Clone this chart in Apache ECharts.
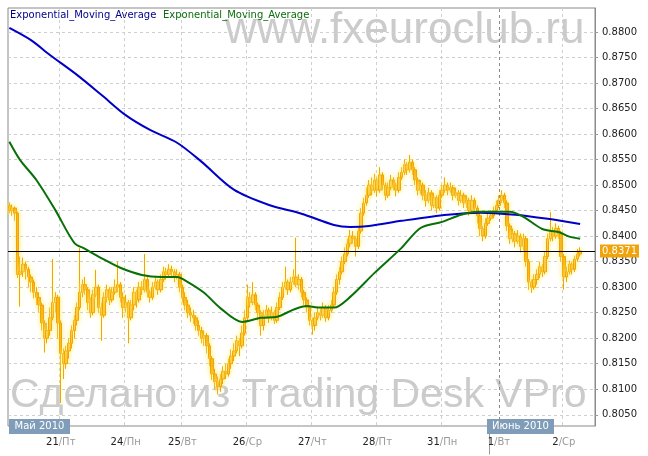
<!DOCTYPE html>
<html>
<head>
<meta charset="utf-8">
<title>EMA chart</title>
<script src="https://cdn.jsdelivr.net/npm/echarts@6/dist/echarts.min.js"></script>
<style>
  html, body { margin: 0; padding: 0; background: #fff; }
  #chart { width: 648px; height: 456px; }
</style>
</head>
<body>
<div id="chart"></div>
<script>
// trading days on the axis, hourly bars
const dayNums = ['20', '21', '24', '25', '26', '27', '28', '31', '1', '2']
const weekDays = ['Чт', 'Пт', 'Пн', 'Вт', 'Ср', 'Чт', 'Пт', 'Пн', 'Вт', 'Ср']
const dayMonths = ['05', '05', '05', '05', '05', '05', '05', '05', '06', '06']
const barsPerDay = [19, 24, 21, 24, 24, 24, 24, 21, 24, 12] // last day only partly filled

const yTicks = [0.805, 0.81, 0.815, 0.82, 0.825, 0.83, 0.835, 0.84, 0.845, 0.85,
  0.855, 0.86, 0.865, 0.87, 0.875, 0.88]

const lastPrice = 0.8371

const opens = [
  // 20
  0.8460, 0.8450, 0.8455, 0.8445, 0.8325, 0.8330, 0.8345, 0.8335, 0.8320, 0.8310, 0.8290, 0.8280, 0.8265, 0.8230, 0.8200, 0.8215, 0.8240, 0.8270, 0.8280,
  // 21
  0.8230, 0.8170, 0.8150, 0.8175, 0.8190, 0.8215, 0.8235, 0.8260, 0.8290, 0.8305, 0.8295, 0.8270, 0.8250, 0.8285, 0.8300, 0.8260, 0.8245, 0.8280, 0.8295, 0.8275, 0.8290, 0.8300, 0.8305, 0.8280,
  // 24
  0.8260, 0.8270, 0.8240, 0.8265, 0.8290, 0.8275, 0.8300, 0.8295, 0.8315, 0.8290, 0.8280, 0.8300, 0.8310, 0.8295, 0.8315, 0.8330, 0.8325, 0.8335, 0.8330, 0.8320, 0.8325,
  // 25
  0.8300, 0.8280, 0.8265, 0.8250, 0.8245, 0.8240, 0.8225, 0.8215, 0.8200, 0.8205, 0.8185, 0.8160, 0.8130, 0.8115, 0.8105, 0.8120, 0.8135, 0.8130, 0.8150, 0.8165, 0.8175, 0.8195, 0.8185, 0.8210,
  // 26
  0.8240, 0.8280, 0.8270, 0.8285, 0.8265, 0.8250, 0.8225, 0.8245, 0.8255, 0.8240, 0.8250, 0.8235, 0.8260, 0.8280, 0.8300, 0.8310, 0.8295, 0.8310, 0.8320, 0.8305, 0.8315, 0.8290, 0.8275, 0.8260,
  // 27
  0.8235, 0.8225, 0.8240, 0.8250, 0.8245, 0.8260, 0.8240, 0.8255, 0.8265, 0.8290, 0.8315, 0.8330, 0.8350, 0.8365, 0.8385, 0.8400, 0.8395, 0.8380, 0.8410, 0.8445, 0.8465, 0.8480, 0.8500, 0.8490,
  // 28
  0.8510, 0.8490, 0.8520, 0.8500, 0.8480, 0.8495, 0.8510, 0.8500, 0.8490, 0.8515, 0.8525, 0.8540, 0.8530, 0.8545, 0.8530, 0.8510, 0.8490, 0.8500, 0.8480, 0.8470, 0.8485, 0.8460, 0.8475, 0.8455,
  // 31
  0.8480, 0.8490, 0.8500, 0.8490, 0.8495, 0.8480, 0.8485, 0.8470, 0.8480, 0.8465, 0.8470, 0.8450, 0.8470, 0.8455, 0.8440, 0.8415, 0.8400, 0.8425, 0.8435, 0.8440, 0.8450,
  // 1
  0.8460, 0.8470, 0.8480, 0.8465, 0.8420, 0.8395, 0.8405, 0.8390, 0.8400, 0.8380, 0.8395, 0.8350, 0.8310, 0.8300, 0.8315, 0.8325, 0.8340, 0.8330, 0.8360, 0.8395, 0.8410, 0.8400, 0.8415, 0.8405,
  // 2
  0.8360, 0.8320, 0.8330, 0.8345, 0.8335, 0.8355, 0.8365
]

const closes = [
  0.8450, 0.8455, 0.8445, 0.8325, 0.8330, 0.8345, 0.8335, 0.8320, 0.8310, 0.8290, 0.8280, 0.8265, 0.8230, 0.8200, 0.8215, 0.8240, 0.8270, 0.8280, 0.8230,
  0.8170, 0.8150, 0.8175, 0.8190, 0.8215, 0.8235, 0.8260, 0.8290, 0.8305, 0.8295, 0.8270, 0.8250, 0.8285, 0.8300, 0.8260, 0.8245, 0.8280, 0.8295, 0.8275, 0.8290, 0.8300, 0.8305, 0.8280, 0.8260,
  0.8270, 0.8240, 0.8265, 0.8290, 0.8275, 0.8300, 0.8295, 0.8315, 0.8290, 0.8280, 0.8300, 0.8310, 0.8295, 0.8315, 0.8330, 0.8325, 0.8335, 0.8330, 0.8320, 0.8325, 0.8300,
  0.8280, 0.8265, 0.8250, 0.8245, 0.8240, 0.8225, 0.8215, 0.8200, 0.8205, 0.8185, 0.8160, 0.8130, 0.8115, 0.8105, 0.8120, 0.8135, 0.8130, 0.8150, 0.8165, 0.8175, 0.8195, 0.8185, 0.8210, 0.8240,
  0.8280, 0.8270, 0.8285, 0.8265, 0.8250, 0.8225, 0.8245, 0.8255, 0.8240, 0.8250, 0.8235, 0.8260, 0.8280, 0.8300, 0.8310, 0.8295, 0.8310, 0.8320, 0.8305, 0.8315, 0.8290, 0.8275, 0.8260, 0.8235,
  0.8225, 0.8240, 0.8250, 0.8245, 0.8260, 0.8240, 0.8255, 0.8265, 0.8290, 0.8315, 0.8330, 0.8350, 0.8365, 0.8385, 0.8400, 0.8395, 0.8380, 0.8410, 0.8445, 0.8465, 0.8480, 0.8500, 0.8490, 0.8510,
  0.8490, 0.8520, 0.8500, 0.8480, 0.8495, 0.8510, 0.8500, 0.8490, 0.8515, 0.8525, 0.8540, 0.8530, 0.8545, 0.8530, 0.8510, 0.8490, 0.8500, 0.8480, 0.8470, 0.8485, 0.8460, 0.8475, 0.8455, 0.8480,
  0.8490, 0.8500, 0.8490, 0.8495, 0.8480, 0.8485, 0.8470, 0.8480, 0.8465, 0.8470, 0.8450, 0.8470, 0.8455, 0.8440, 0.8415, 0.8400, 0.8425, 0.8435, 0.8440, 0.8450, 0.8460,
  0.8470, 0.8480, 0.8465, 0.8420, 0.8395, 0.8405, 0.8390, 0.8400, 0.8380, 0.8395, 0.8350, 0.8310, 0.8300, 0.8315, 0.8325, 0.8340, 0.8330, 0.8360, 0.8395, 0.8410, 0.8400, 0.8415, 0.8405, 0.8360,
  0.8320, 0.8330, 0.8345, 0.8335, 0.8355, 0.8365, 0.8371
]

const highs = [
  0.8466, 0.8462, 0.8458, 0.8448, 0.8360, 0.8358, 0.8350, 0.8340, 0.8325, 0.8315, 0.8300, 0.8290, 0.8270, 0.8235, 0.8230, 0.8260, 0.8355, 0.8290, 0.8285,
  0.8235, 0.8180, 0.8185, 0.8200, 0.8225, 0.8245, 0.8270, 0.8377, 0.8315, 0.8320, 0.8300, 0.8280, 0.8295, 0.8334, 0.8305, 0.8270, 0.8290, 0.8305, 0.8300, 0.8300, 0.8315, 0.8350, 0.8310, 0.8290,
  0.8285, 0.8275, 0.8275, 0.8300, 0.8295, 0.8310, 0.8312, 0.8365, 0.8320, 0.8295, 0.8310, 0.8320, 0.8315, 0.8325, 0.8340, 0.8338, 0.8345, 0.8342, 0.8335, 0.8335, 0.8330,
  0.8305, 0.8290, 0.8275, 0.8260, 0.8255, 0.8245, 0.8235, 0.8222, 0.8215, 0.8210, 0.8190, 0.8165, 0.8140, 0.8125, 0.8130, 0.8145, 0.8150, 0.8160, 0.8178, 0.8190, 0.8205, 0.8200, 0.8225, 0.8255,
  0.8305, 0.8290, 0.8310, 0.8290, 0.8270, 0.8255, 0.8255, 0.8265, 0.8260, 0.8262, 0.8255, 0.8270, 0.8290, 0.8310, 0.8340, 0.8315, 0.8320, 0.8335, 0.8397, 0.8325, 0.8320, 0.8295, 0.8280, 0.8265,
  0.8240, 0.8250, 0.8262, 0.8258, 0.8270, 0.8265, 0.8265, 0.8275, 0.8300, 0.8325, 0.8340, 0.8360, 0.8378, 0.8395, 0.8412, 0.8410, 0.8400, 0.8420, 0.8455, 0.8475, 0.8495, 0.8510, 0.8515, 0.8522,
  0.8515, 0.8535, 0.8525, 0.8505, 0.8505, 0.8520, 0.8515, 0.8505, 0.8525, 0.8535, 0.8550, 0.8545, 0.8559, 0.8550, 0.8535, 0.8515, 0.8510, 0.8505, 0.8490, 0.8495, 0.8490, 0.8485, 0.8480, 0.8490,
  0.8500, 0.8515, 0.8505, 0.8505, 0.8500, 0.8495, 0.8490, 0.8490, 0.8485, 0.8480, 0.8475, 0.8480, 0.8475, 0.8460, 0.8445, 0.8420, 0.8435, 0.8445, 0.8450, 0.8458, 0.8470,
  0.8480, 0.8490, 0.8485, 0.8470, 0.8425, 0.8415, 0.8410, 0.8412, 0.8405, 0.8405, 0.8400, 0.8355, 0.8315, 0.8325, 0.8335, 0.8350, 0.8345, 0.8370, 0.8405, 0.8447, 0.8418, 0.8425, 0.8420, 0.8410,
  0.8365, 0.8340, 0.8352, 0.8350, 0.8362, 0.8375, 0.8378
]

const lows = [
  0.8445, 0.8440, 0.8430, 0.8318, 0.8262, 0.8320, 0.8315, 0.8300, 0.8290, 0.8278, 0.8265, 0.8250, 0.8215, 0.8172, 0.8190, 0.8205, 0.8235, 0.8250, 0.8200,
  0.8073, 0.8120, 0.8140, 0.8160, 0.8180, 0.8200, 0.8225, 0.8255, 0.8280, 0.8285, 0.8255, 0.8240, 0.8245, 0.8280, 0.8250, 0.8195, 0.8240, 0.8270, 0.8265, 0.8270, 0.8285, 0.8290, 0.8270, 0.8240,
  0.8250, 0.8190, 0.8235, 0.8255, 0.8260, 0.8270, 0.8285, 0.8290, 0.8280, 0.8270, 0.8275, 0.8295, 0.8285, 0.8290, 0.8310, 0.8315, 0.8320, 0.8320, 0.8310, 0.8315, 0.8290,
  0.8270, 0.8255, 0.8240, 0.8232, 0.8228, 0.8215, 0.8205, 0.8190, 0.8185, 0.8170, 0.8145, 0.8118, 0.8100, 0.8090, 0.8095, 0.8110, 0.8120, 0.8125, 0.8140, 0.8155, 0.8170, 0.8165, 0.8180, 0.8205,
  0.8235, 0.8260, 0.8265, 0.8255, 0.8235, 0.8205, 0.8215, 0.8238, 0.8230, 0.8235, 0.8228, 0.8230, 0.8255, 0.8275, 0.8295, 0.8285, 0.8290, 0.8305, 0.8300, 0.8295, 0.8280, 0.8265, 0.8250, 0.8225,
  0.8207, 0.8215, 0.8235, 0.8235, 0.8240, 0.8232, 0.8235, 0.8250, 0.8260, 0.8285, 0.8305, 0.8325, 0.8345, 0.8360, 0.8378, 0.8385, 0.8360, 0.8375, 0.8405, 0.8440, 0.8460, 0.8475, 0.8480, 0.8485,
  0.8478, 0.8485, 0.8490, 0.8470, 0.8475, 0.8490, 0.8490, 0.8478, 0.8485, 0.8510, 0.8520, 0.8520, 0.8525, 0.8520, 0.8500, 0.8480, 0.8482, 0.8470, 0.8458, 0.8465, 0.8450, 0.8455, 0.8445, 0.8450,
  0.8475, 0.8485, 0.8480, 0.8485, 0.8470, 0.8475, 0.8460, 0.8465, 0.8455, 0.8455, 0.8440, 0.8445, 0.8445, 0.8425, 0.8400, 0.8390, 0.8395, 0.8420, 0.8430, 0.8435, 0.8445,
  0.8455, 0.8465, 0.8455, 0.8410, 0.8385, 0.8388, 0.8378, 0.8385, 0.8368, 0.8372, 0.8340, 0.8295, 0.8289, 0.8295, 0.8305, 0.8318, 0.8320, 0.8325, 0.8355, 0.8390, 0.8390, 0.8395, 0.8395, 0.8350,
  0.8295, 0.8310, 0.8325, 0.8325, 0.8330, 0.8350, 0.8360
]

// moving averages: [bar index, value]
const emaBlue = [[0, 0.8808], [8, 0.8784], [15, 0.8755], [25, 0.8716], [34, 0.8677], [43, 0.8637],
  [52, 0.8608], [62, 0.8583], [71, 0.8546], [83, 0.8491], [96, 0.8461], [108, 0.8444], [120, 0.8422],
  [126, 0.8418], [133, 0.8420], [145, 0.8430], [162, 0.8442], [174, 0.8446], [187, 0.8442],
  [199, 0.8434], [211, 0.8424]]
const emaGreen = [[0, 0.8585], [4, 0.8549], [10, 0.8510], [17, 0.8451], [24, 0.8387], [28, 0.8375],
  [34, 0.8357], [41, 0.8338], [49, 0.8324], [56, 0.8320], [62, 0.8320], [66, 0.8310], [72, 0.8289],
  [78, 0.8259], [86, 0.8232], [93, 0.8240], [99, 0.8242], [105, 0.8256], [110, 0.8263], [114, 0.8260],
  [120, 0.8260], [126, 0.8281], [135, 0.8328], [145, 0.8377], [152, 0.8416], [160, 0.8428],
  [167, 0.8442], [173, 0.8448], [185, 0.8448], [190, 0.8438], [197, 0.8414], [203, 0.8408],
  [207, 0.8399], [211, 0.8395]]

// category names + where each day starts
let categories = []
let dayStart = {}
let monthStart = 0
dayNums.forEach((d, k) => {
  const n = barsPerDay[k]
  const first = k === dayNums.length - 1 ? 0 : 24 - n
  dayStart[categories.length] = [d, weekDays[k]]
  if (k > 0 && dayMonths[k] !== dayMonths[k - 1]) monthStart = categories.length
  for (let h = first; h < first + n; h++) {
    categories.push('2010-' + dayMonths[k] + '-' + d.padStart(2, '0') + ' ' + String(h).padStart(2, '0') + ':00')
  }
})

const candles = closes.map((c, i) => [opens[i], c, lows[i], highs[i]])

const font = 'DejaVu Sans'
const gridDash = { color: '#cfcfcf', type: [3, 3], width: 1 }

let chart = echarts.init(document.getElementById('chart'))
let option = {
  animation: false,
  backgroundColor: '#fff',
  grid: {
    left: 8, right: 53, top: 8, bottom: 30,
    show: true,
    borderColor: '#8a8a8a',
    borderWidth: 1,
    outerBoundsMode: 'none'
  },
  xAxis: {
    type: 'category',
    data: categories,
    boundaryGap: true,
    axisLine: { show: false },
    axisTick: { show: false },
    axisLabel: {
      interval: (i) => i > 0 && !!dayStart[i],
      margin: 11,
      formatter: (v, i) => {
        const d = dayStart[i]
        return d ? '{d|' + d[0] + '}{w|/' + d[1] + '}' : ''
      },
      rich: {
        d: { color: '#222', fontSize: 10, fontFamily: font },
        w: { color: '#999', fontSize: 10, fontFamily: font }
      }
    },
    splitLine: {
      show: true,
      interval: (i) => i > 0 && i !== monthStart && !!dayStart[i],
      lineStyle: gridDash
    }
  },
  yAxis: {
    type: 'value',
    position: 'right',
    scale: true,
    min: 0.8028,
    max: 0.8847,
    axisLine: { show: true, lineStyle: { color: '#8a8a8a' } },
    axisTick: { show: true, length: 3, customValues: yTicks, lineStyle: { color: '#999' } },
    axisLabel: {
      customValues: yTicks,
      margin: 7,
      color: '#222',
      fontSize: 10,
      fontFamily: font,
      formatter: (v) => v.toFixed(4)
    },
    splitLine: { show: true, lineStyle: gridDash }
  },
  series: [
    {
      type: 'candlestick',
      data: candles,
      barWidth: 3,
      z: 3,
      itemStyle: {
        color: '#fbbd2c',
        color0: '#f5a400',
        borderColor: '#f2a500',
        borderColor0: '#f2a500',
        borderWidth: 1,
        shadowBlur: 5,
        shadowColor: 'rgba(255, 236, 120, 1)'
      },
      markLine: {
        silent: true,
        symbol: ['none', 'none'],
        precision: 4,
        z: 4,
        data: [
          {
            yAxis: lastPrice,
            lineStyle: { color: '#000', width: 1, type: 'solid' },
            label: {
              show: true,
              position: 'end',
              distance: 5,
              formatter: lastPrice.toFixed(4),
              color: '#fff',
              backgroundColor: '#f0a30a',
              padding: [2, 2, 1, 2],
              fontSize: 10,
              fontFamily: font
            }
          },
          {
            xAxis: categories[monthStart],
            lineStyle: { color: '#8a8a8a', width: 1, type: [3, 3] },
            label: { show: false }
          }
        ]
      }
    },
    {
      name: 'Exponential_Moving_Average',
      type: 'line',
      data: emaBlue,
      smooth: 0.3,
      symbol: 'none',
      z: 5,
      lineStyle: { color: '#0000c8', width: 2 }
    },
    {
      name: 'Exponential_Moving_Average',
      type: 'line',
      data: emaGreen,
      smooth: 0.3,
      symbol: 'none',
      z: 5,
      lineStyle: { color: '#077007', width: 2 }
    }
  ],
  graphic: [
    // watermarks behind the data
    {
      type: 'text', z: -10, left: 225, top: 9,
      style: { text: 'www.fxeuroclub.ru', fill: '#cbcbcb', fontSize: 44, fontFamily: 'Liberation Sans' }
    },
    {
      type: 'text', z: -10, left: 10, top: 375,
      style: { text: 'Сделано из Trading Desk VPro', fill: '#cbcbcb', fontSize: 41, fontFamily: 'Liberation Sans' }
    },
    // indicator names
    {
      type: 'text', left: 10, top: 10,
      style: { text: 'Exponential_Moving_Average', fill: '#00008c', fontSize: 10, fontFamily: font }
    },
    {
      type: 'text', left: 163, top: 10,
      style: { text: 'Exponential_Moving_Average', fill: '#0a6e0a', fontSize: 10, fontFamily: font }
    },
    // month tags
    {
      type: 'group', left: 9, top: 419,
      children: [
        { type: 'rect', shape: { x: 0, y: 0, width: 61, height: 15 }, style: { fill: '#7f9db8' } },
        { type: 'text', style: { text: 'Май 2010', x: 30.5, y: 7.5, align: 'center', verticalAlign: 'middle', fill: '#fff', fontSize: 10, fontFamily: font } }
      ]
    },
    {
      type: 'line', left: 487, top: 426,
      shape: { x1: 0.5, y1: 0, x2: 0.5, y2: 26 },
      style: { stroke: '#9a9a9a', lineWidth: 1 }
    },
    {
      type: 'group', left: 487, top: 419,
      children: [
        { type: 'rect', shape: { x: 0, y: 0, width: 67, height: 15 }, style: { fill: '#7f9db8' } },
        { type: 'text', style: { text: 'Июнь 2010', x: 33.5, y: 7.5, align: 'center', verticalAlign: 'middle', fill: '#fff', fontSize: 10, fontFamily: font } }
      ]
    }
  ]
}
chart.setOption(option)
</script>
</body>
</html>
